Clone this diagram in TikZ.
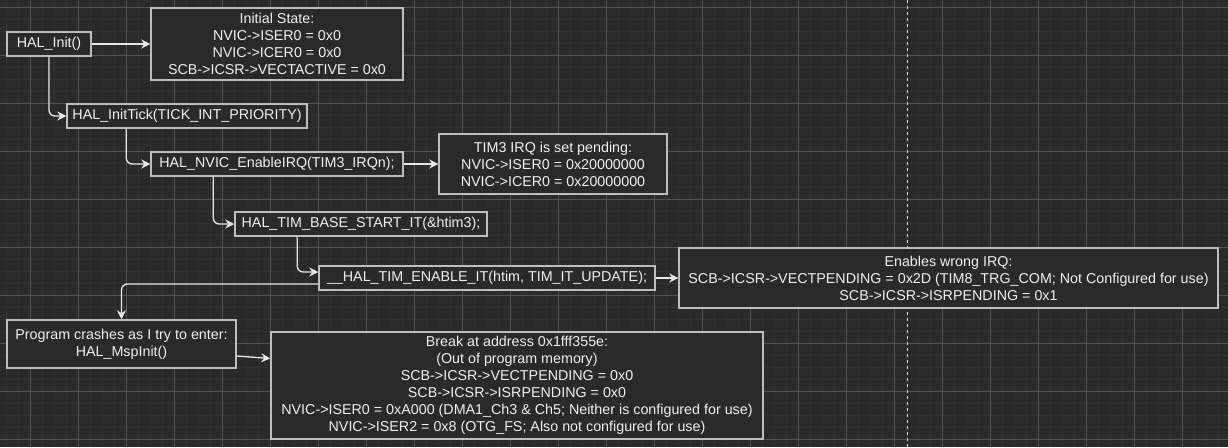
\documentclass[tikz,border=0pt]{standalone}
\usepackage{fontspec}
\setmainfont{Liberation Sans}
\usetikzlibrary{arrows.meta}
\definecolor{canvas}{HTML}{2A2A2A}
\definecolor{gridminor}{HTML}{323232}
\definecolor{gridmajor}{HTML}{525252}
\definecolor{edge}{HTML}{BEBEBE}
\definecolor{ink}{HTML}{F0F0F0}
\begin{document}
\begin{tikzpicture}[x=1pt,y=-1pt,
    box/.style={draw=edge,line width=1.5pt,fill=canvas,text=ink,align=center,inner sep=0pt,
      font=\fontsize{14.3}{17}\selectfont},
    flow/.style={draw=ink!92!gray,line width=1.3pt,rounded corners=6pt,
      -{Stealth[length=9pt,width=9pt,inset=3pt]}}]
  \fill[canvas] (0,0) rectangle (1228,447);
  \useasboundingbox (0,0) rectangle (1228,447);
  \foreach \gx in {6.5,18.5,...,1228} \draw[gridminor,line width=1pt] (\gx,0) -- (\gx,447);
  \foreach \gy in {7.3,19.3,...,447} \draw[gridminor,line width=1pt] (0,\gy) -- (1228,\gy);
  \foreach \gx in {30.5,78.5,...,1228} \draw[gridmajor,line width=0.8pt] (\gx,0) -- (\gx,447);
  \foreach \gy in {7.3,55.3,...,447} \draw[gridmajor,line width=0.8pt] (0,\gy) -- (1228,\gy);
  \draw[ink!85!gray,line width=1pt,dash pattern=on 3pt off 3pt] (907,0) -- (907,447);

  \node[box,minimum width=84pt,minimum height=24pt] (init) at (49,44) {HAL\_Init()};
  \node[box,minimum width=252pt,minimum height=72pt] (initstate) at (277,44)
    {Initial State:\\NVIC->ISER0 = 0x0\\NVIC->ICER0 = 0x0\\SCB->ICSR->VECTACTIVE = 0x0};
  \node[box,minimum width=240pt,minimum height=24pt] (inittick) at (187,116)
    {HAL\_InitTick(TICK\_INT\_PRIORITY)};
  \node[box,minimum width=252pt,minimum height=24pt] (enirq) at (277,164)
    {HAL\_NVIC\_EnableIRQ(TIM3\_IRQn);};
  \node[box,minimum width=228pt,minimum height=60pt] (tim3) at (553,164)
    {TIM3 IRQ is set pending:\\NVIC->ISER0 = 0x20000000\\NVIC->ICER0 = 0x20000000};
  \node[box,minimum width=252pt,minimum height=24pt] (basestart) at (361,224)
    {HAL\_TIM\_BASE\_START\_IT(\&htim3);};
  \node[box,minimum width=336pt,minimum height=24pt] (enableit) at (487,278)
    {\_\_HAL\_TIM\_ENABLE\_IT(htim, TIM\_IT\_UPDATE);};
  \node[box,minimum width=539pt,minimum height=60pt] (wrongirq) at (948.5,278)
    {Enables wrong IRQ:\\SCB->ICSR->VECTPENDING = 0x2D (TIM8\_TRG\_COM; Not Configured for use)\\SCB->ICSR->ISRPENDING = 0x1};
  \node[box,minimum width=229pt,minimum height=48pt] (crash) at (121.5,344)
    {Program crashes as I try to enter:\\HAL\_MspInit()};
  \node[box,minimum width=492pt,minimum height=107pt] (breakaddr) at (517,385.5)
    {Break at address 0x1fff355e:\\(Out of program memory)\\SCB->ICSR->VECTPENDING = 0x0\\SCB->ICSR->ISRPENDING = 0x0\\NVIC->ISER0 = 0xA000 (DMA1\_Ch3 \& Ch5; Neither is configured for use)\\NVIC->ISER2 = 0x8 (OTG\_FS; Also not configured for use)};

  \draw[flow] (init.east) -- (initstate.west);
  \draw[flow] (init.south) |- (inittick.west);
  \draw[flow] ([xshift=60pt]inittick.south west) |- (enirq.west);
  \draw[flow] (enirq.east) -- (tim3.west);
  \draw[flow] ([xshift=63pt]enirq.south west) |- (basestart.west);
  \draw[flow] ([xshift=63pt]basestart.south west) |- ([yshift=6pt]enableit.west);
  \draw[flow] (enableit.east) -- (wrongirq.west);
  \draw[flow] ([yshift=-6pt]enableit.west) -| (crash.north);
  \draw[flow] ([yshift=-12pt]crash.east) -- ([yshift=27pt]breakaddr.west);
\end{tikzpicture}
\end{document}
